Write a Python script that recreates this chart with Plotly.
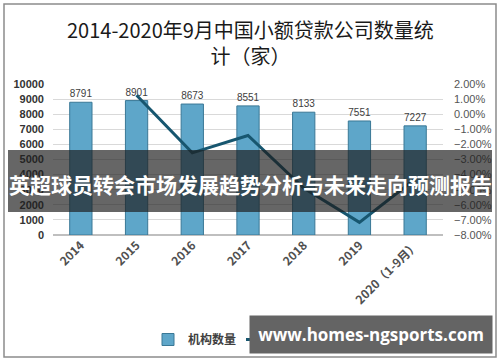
import plotly.graph_objects as go

categories = ["2014", "2015", "2016", "2017", "2018", "2019", "2020（1-9月）"]
counts = [8791, 8901, 8673, 8551, 8133, 7551, 7227]
growth_cats = ["2015", "2016", "2017", "2018", "2019", "2020（1-9月）"]
growth = [0.0125, -0.0256, -0.0141, -0.0489, -0.0716, -0.0429]
left_ticks = list(range(0, 10001, 1000))
right_ticks = [x / 100 for x in range(-8, 3)]

W, H = 500, 362
def px(x): return x / W
def py(y): return 1 - y / H

fig = go.Figure()
fig.add_trace(go.Bar(
    x=categories, y=counts, name="机构数量",
    marker=dict(color="#5ea6c9", line=dict(color="#3a7896", width=1)),
    width=0.4,
    text=[str(v) for v in counts], textposition="outside",
    textfont=dict(size=11, color="#404040", family="Liberation Sans"),
    cliponaxis=False,
))
fig.add_trace(go.Scatter(
    x=growth_cats, y=growth, name="增长率", yaxis="y2", mode="lines",
    line=dict(color="#17566f", width=3),
))

fig.update_layout(
    width=W, height=H,
    margin=dict(l=0, r=0, t=0, b=0, autoexpand=False),
    paper_bgcolor="white", plot_bgcolor="white",
    font=dict(family="Noto Sans CJK SC", color="#404040"),
    showlegend=True,
    legend=dict(orientation="h", x=px(148), y=py(325), xanchor="left", yanchor="top",
                font=dict(size=12, color="#404040", weight="bold"), bgcolor="rgba(0,0,0,0)"),
    xaxis=dict(domain=[px(53), px(443)], tickangle=-45, showgrid=False, automargin=False,
               tickfont=dict(size=12, color="#505050", family="Noto Sans CJK SC", weight="bold"),
               ticks="", showline=False),
    yaxis=dict(domain=[py(235), py(84)], range=[0, 10000], tickvals=left_ticks, tickformat="d",
               automargin=False,
               showgrid=True, gridcolor="#d9d9d9", gridwidth=1, zeroline=True,
               zerolinecolor="#bfbfbf",
               tickfont=dict(size=11, color="#333", family="Liberation Sans", weight="bold"),
               ticks="", ticklabelstandoff=8),
    yaxis2=dict(overlaying="y", side="right", range=[-0.08, 0.02], tickvals=right_ticks,
                automargin=False,
                tickformat=".2%", showgrid=False, zeroline=False,
                tickfont=dict(size=11, color="#555", family="Liberation Sans"), ticklabelstandoff=10),
)

shapes = [
    dict(type="rect", xref="paper", yref="paper", x0=px(4), x1=px(496), y0=py(357), y1=py(4),
         line=dict(color="#8c8c8c", width=1.5), fillcolor="rgba(0,0,0,0)", layer="above"),
    dict(type="rect", xref="paper", yref="paper", x0=px(8), x1=px(492), y0=py(212), y1=py(150),
         line=dict(width=0), fillcolor="rgba(30,30,30,0.68)", layer="above"),
]
fig.update_layout(shapes=shapes)

fig.add_annotation(text="2014-2020年9月中国小额贷款公司数量统<br>计（家）", xref="paper", yref="paper",
                   x=0.5, y=py(42), xanchor="center", yanchor="middle", showarrow=False, align="center",
                   font=dict(size=20, color="#1a1a1a", family="Noto Sans CJK SC"))
fig.add_annotation(text="<b>英超球员转会市场发展趋势分析与未来走向预测报告</b>", xref="paper", yref="paper",
                   x=0.5, y=py(184), xanchor="center", yanchor="middle", showarrow=False,
                   font=dict(size=21, color="white", family="Noto Sans CJK SC"))
fig.add_annotation(text="<b>www.homes-ngsports.com</b>", xref="paper", yref="paper",
                   x=px(249), y=py(315), xanchor="left", yanchor="top", showarrow=False,
                   width=234, height=29, bgcolor="#646464", borderpad=4, align="center",
                   font=dict(size=17, color="white", family="Open Sans"))

fig.write_html("out.html", config={"displayModeBar": False},
               post_script="document.body.style.margin='0';")
